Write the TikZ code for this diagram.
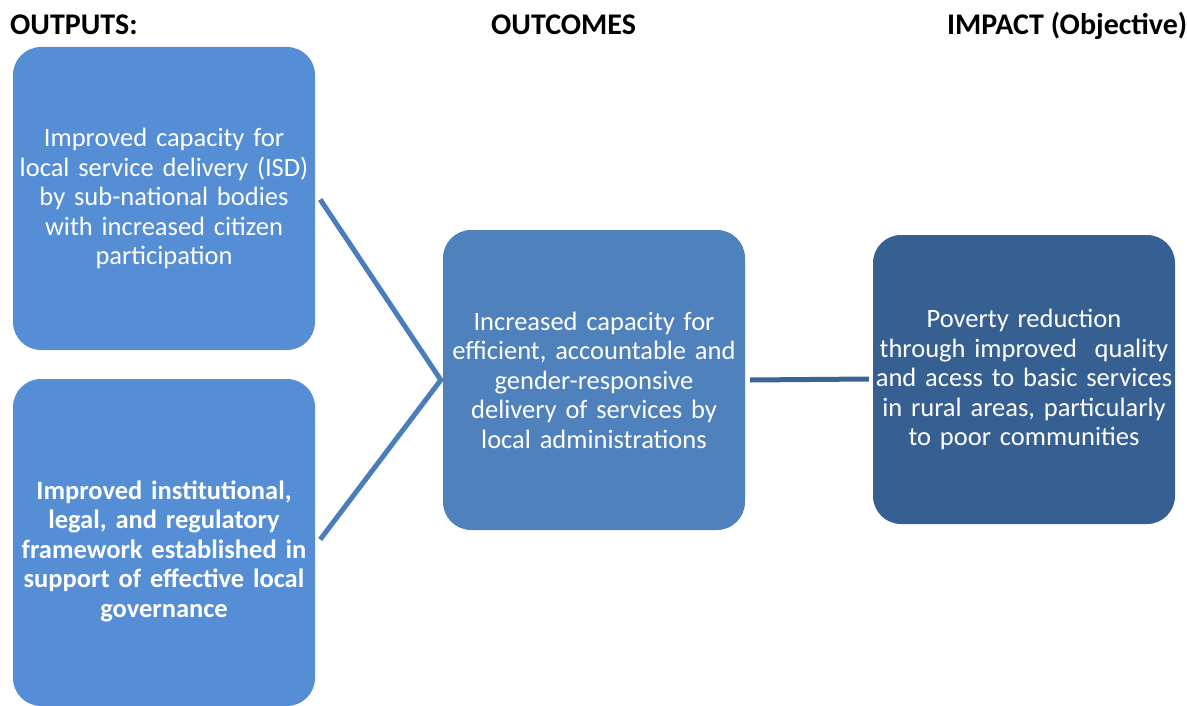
\documentclass[tikz,border=0pt]{standalone}
\usepackage{fontspec}
\setmainfont{Carlito}
\usepackage{tikz}

\definecolor{outblue}{HTML}{558ED5}
\definecolor{outcblue}{HTML}{4F81BD}
\definecolor{impblue}{HTML}{376092}
\definecolor{vline}{HTML}{4A7EBB}
\definecolor{hline}{HTML}{3B6494}

\begin{document}
\begin{tikzpicture}[x=1pt,y=-1pt]
  \tikzstyle{LFbox}=[rectangle,rounded corners=28pt,draw=none,text=white,align=center,
    minimum width=302pt,text width=300pt,inner sep=0pt,
    font=\fontsize{26.5}{29.5}\selectfont]
  \tikzstyle{LFhead}=[anchor=base west,inner sep=0pt,font=\fontsize{30}{33}\selectfont\bfseries]
  \tikzstyle{LFlink}=[line width=5pt]
  \useasboundingbox (0,0) rectangle (1187,706);

  % column heads
  \node[LFhead] (hOut) at (10,35) {OUTPUTS:};
  \node[LFhead] (hOutc) at (491,35) {OUTCOMES};
  \node[LFhead] (hImp) at (947,35) {IMPACT (Objective)};

  % boxes
  \node[LFbox, fill=outblue, minimum height=303pt] (nOut1) at (164,198.5)
    {Improved capacity for\\ local service delivery (ISD)\\ by sub-national bodies\\ with increased citizen\\ participation};
  \node[LFbox, fill=outblue, minimum height=327pt, font=\fontsize{26.5}{29.5}\selectfont\bfseries] (nOut2) at (164,542.5)
    {\rule{0pt}{36pt}Improved institutional,\\ legal, and regulatory\\ framework established in\\ support of effective local\\ governance};
  \node[LFbox, fill=outcblue, minimum height=300pt] (nOutc) at (594,380)
    {Increased capacity for\\ efficient, accountable and\\ gender-responsive\\ delivery of services by\\ local administrations};
  \node[LFbox, fill=impblue, minimum height=289pt] (nImp) at (1024,379.5)
    {Poverty reduction\\ through improved\ \ quality\\ and acess to basic services\\ in rural areas, particularly\\ to poor communities};

  % links
  \draw[LFlink, draw=vline] ([xshift=5pt,yshift=-1pt]nOut1.east) -- ([xshift=-2pt]nOutc.west)
    -- ([xshift=5pt,yshift=3pt]nOut2.east);
  \draw[LFlink, draw=hline] ([xshift=5pt]nOutc.east) -- ([xshift=-4pt,yshift=0.5pt]nImp.west);

\end{tikzpicture}
\end{document}
